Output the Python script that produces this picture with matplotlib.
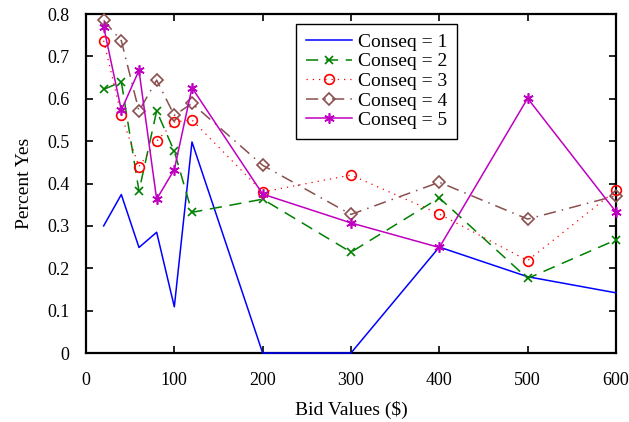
import matplotlib
matplotlib.use("Agg")
import matplotlib.pyplot as plt

bids = [20, 40, 60, 80, 100, 120, 200, 300, 400, 500, 600]

conseq1 = [0.300, 0.374, 0.249, 0.285, 0.109, 0.498, 0.0, 0.0, 0.250, 0.180, 0.142]
conseq2 = [0.622, 0.640, 0.382, 0.571, 0.476, 0.332, 0.363, 0.238, 0.366, 0.176, 0.267]
conseq3 = [0.737, 0.561, 0.440, 0.500, 0.545, 0.550, 0.380, 0.420, 0.328, 0.218, 0.384]
conseq4 = [0.785, 0.737, 0.571, 0.644, 0.561, 0.589, 0.443, 0.327, 0.403, 0.316, 0.371]
conseq5 = [0.770, 0.573, 0.667, 0.363, 0.433, 0.626, 0.375, 0.307, 0.249, 0.601, 0.333]

labels = ["Conseq = 1", "Conseq = 2", "Conseq = 3", "Conseq = 4", "Conseq = 5"]

plt.rcParams["font.family"] = ["Liberation Serif", "DejaVu Serif"]
plt.rcParams["font.size"] = 13

fig = plt.figure(figsize=(6.29, 4.22), dpi=100)
ax = fig.add_axes([0.1367, 0.1635, 0.8426, 0.8033])

lw = 1.1
ax.plot(bids, conseq1, color="#0000ff", lw=lw, label=labels[0], clip_on=False, zorder=3)
ax.plot(bids, conseq2, color="#008000", lw=lw, ls=(0, (8, 5)), marker="x",
        ms=5.5, mew=1.2, label=labels[1], clip_on=False, zorder=3)
ax.plot(bids, conseq3, color="#ff0000", lw=0.9, ls=(0, (1, 4)), marker="o",
        ms=7, mfc="none", mew=1.2, label=labels[2], clip_on=False, zorder=3)
ax.plot(bids, conseq4, color="#8a4f4f", lw=lw, ls=(0, (8, 4, 1, 4)), marker="D",
        ms=6.5, mfc="none", mew=1.2, label=labels[3], clip_on=False, zorder=3)
ax.plot(bids, conseq5, color="#c000c0", lw=lw, marker=(6, 2, 0),
        ms=7.5, mew=1.2, label=labels[4], clip_on=False, zorder=3)

ax.set_xlim(0, 600)
ax.set_ylim(0, 0.8)
ax.set_xticks([0, 100, 200, 300, 400, 500, 600])
ax.set_yticks([0, 0.1, 0.2, 0.3, 0.4, 0.5, 0.6, 0.7, 0.8])
ax.set_yticklabels(["0", "0.1", "0.2", "0.3", "0.4", "0.5", "0.6", "0.7", "0.8"])
ax.tick_params(direction="in", top=True, right=True, length=5, width=1.2)
ax.tick_params(axis="x", pad=14)
ax.tick_params(axis="y", pad=12)
for s in ax.spines.values():
    s.set_linewidth(1.6)

ax.set_xlabel("Bid Values ($)", fontsize=14, labelpad=8)
ax.set_ylabel("Percent Yes", fontsize=14, labelpad=10)

leg = ax.legend(loc="upper left", bbox_to_anchor=(0.396, 0.972), borderaxespad=0,
                fancybox=False, framealpha=1, edgecolor="black", fontsize=14,
                handlelength=2.4, labelspacing=0.1, handletextpad=0.3,
                borderpad=0.5)
leg.get_frame().set_linewidth(1.0)
leg.set_zorder(5)

fig.savefig("out.png", dpi=100)
